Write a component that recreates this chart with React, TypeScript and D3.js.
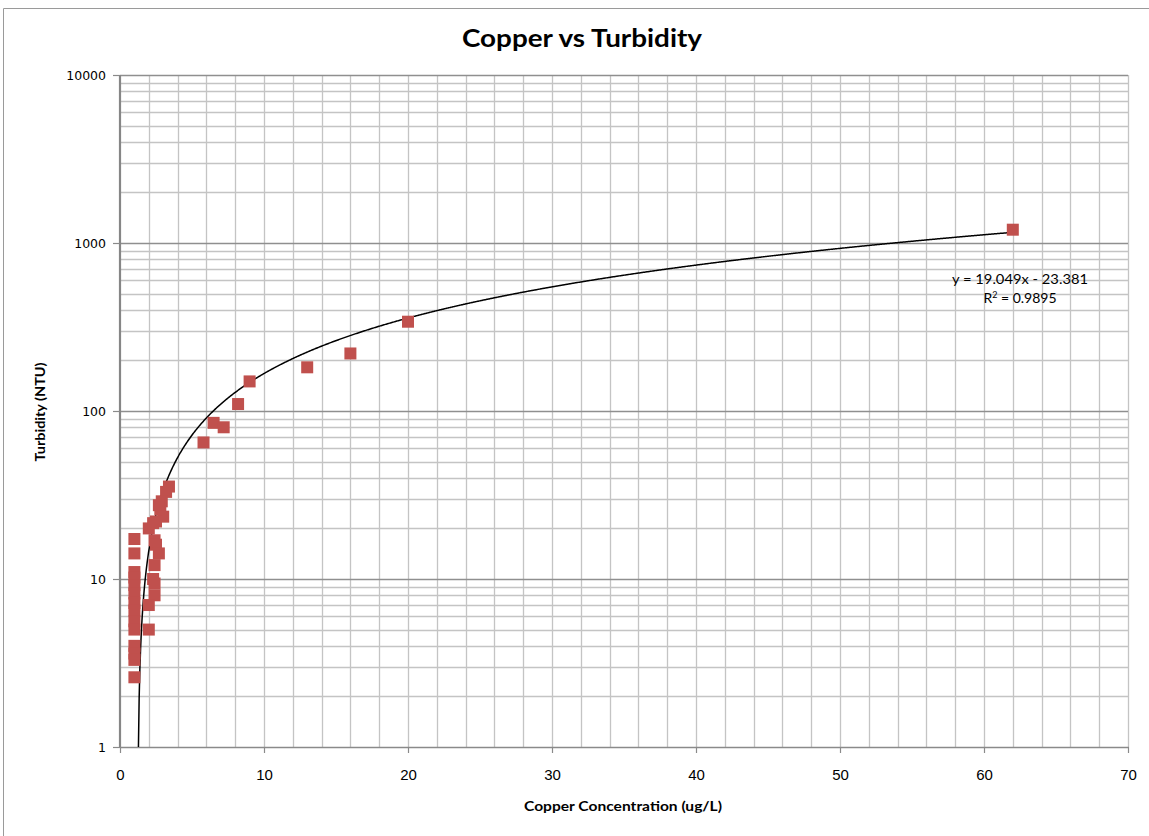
import React, { useEffect, useRef } from "react";
import * as d3 from "d3";

// copper (ug/L) vs turbidity (NTU) samples
const copper = [
  1, 1, 1, 1, 1, 1, 1, 1, 1, 1, 1, 1, 1, 1,
  3.4, 3.2, 2.9, 2.8, 2.7, 3.0, 2.0, 2.3, 2.5, 2.4, 2.5, 2.7, 2.4, 2.3, 2.4, 2.4, 2.0, 2.0,
  5.8, 6.5, 7.2, 8.2, 9.0, 13, 16, 20, 62,
];
const turbidity = [
  17.3, 14.2, 11, 10.2, 9.2, 8.2, 7.2, 6.5, 5.6, 5, 4, 3.6, 3.3, 2.6,
  35.5, 33, 29, 26, 27.5, 23.5, 20, 21.5, 22, 17, 16, 14.2, 12.1, 10, 9.4, 8, 7, 5,
  65, 85, 80, 110, 150, 182, 220, 340, 1200,
];

const xTicks = [0, 10, 20, 30, 40, 50, 60, 70];
const yTicks = [1, 10, 100, 1000, 10000];

// trendline shown on the chart
const slope = 19.049;
const intercept = -23.381;
const eqLabel = "y = 19.049x - 23.381";
const r2Label = "0.9895";

const App = () => {
  const svgRef = useRef<SVGSVGElement>(null);

  useEffect(() => {
    const svg = d3.select(svgRef.current);
    svg.selectAll("*").remove();

    const left = 120, right = 1128, top = 75, bottom = 747;
    const x = d3.scaleLinear().domain([0, 70]).range([left, right]);
    const y = d3.scaleLog().domain([1, 10000]).range([bottom, top]);

    // outer chart frame (only left/top visible in crop)
    svg.append("line").attr("x1", 3.5).attr("x2", 3.5).attr("y1", 8.5).attr("y2", 836)
      .attr("stroke", "#9a9a9a").attr("stroke-width", 1);
    svg.append("line").attr("x1", 3.5).attr("x2", 1149).attr("y1", 8.5).attr("y2", 8.5)
      .attr("stroke", "#9a9a9a").attr("stroke-width", 1);

    const grid = svg.append("g");
    // vertical gridlines every 2 units
    d3.range(2, 71, 2).forEach((v) => {
      grid.append("line")
        .attr("x1", Math.round(x(v)) + 0.5).attr("x2", Math.round(x(v)) + 0.5)
        .attr("y1", top).attr("y2", bottom)
        .attr("stroke", "#c4c4c4").attr("stroke-width", 1.3);
    });
    // horizontal log gridlines
    [1, 10, 100, 1000].forEach((dec) => {
      d3.range(2, 10).forEach((m) => {
        const yy = Math.round(y(dec * m)) + 0.5;
        grid.append("line").attr("x1", left).attr("x2", right).attr("y1", yy).attr("y2", yy)
          .attr("stroke", "#c4c4c4").attr("stroke-width", 1.3);
      });
    });
    yTicks.slice(1).forEach((v) => {
      const yy = Math.round(y(v)) + 0.5;
      grid.append("line").attr("x1", left).attr("x2", right).attr("y1", yy).attr("y2", yy)
        .attr("stroke", "#8f8f8f").attr("stroke-width", 1.3);
    });

    // axes
    svg.append("line").attr("x1", left).attr("x2", right + 1).attr("y1", bottom + 0.5).attr("y2", bottom + 0.5)
      .attr("stroke", "#8a8a8a").attr("stroke-width", 1.3);
    svg.append("line").attr("x1", left).attr("x2", left).attr("y1", top).attr("y2", bottom + 1)
      .attr("stroke", "#868686").attr("stroke-width", 2.2);

    xTicks.forEach((v) => {
      const xx = Math.round(x(v)) + 0.5;
      svg.append("line").attr("x1", xx).attr("x2", xx).attr("y1", bottom).attr("y2", bottom + 6)
        .attr("stroke", "#8a8a8a").attr("stroke-width", 1.2);
      svg.append("text").attr("x", xx).attr("y", 780)
        .attr("text-anchor", "middle")
        .attr("font-family", "'Liberation Sans Narrow', 'Liberation Sans', sans-serif")
        .attr("font-size", 15).attr("fill", "#000")
        .text(v);
    });

    yTicks.forEach((v) => {
      const yy = Math.round(y(v)) + 0.5;
      svg.append("line").attr("x1", left - 7).attr("x2", left).attr("y1", yy).attr("y2", yy)
        .attr("stroke", "#8a8a8a").attr("stroke-width", 1.2);
      svg.append("text").attr("x", 106).attr("y", yy + 4.5)
        .attr("text-anchor", "end")
        .attr("font-family", "'DejaVu Sans', sans-serif")
        .attr("font-size", 12.5).attr("fill", "#000")
        .text(v);
    });

    // trendline
    const xStart = (1 - intercept) / slope;
    const trendX = d3.range(xStart, 62.01, 0.05);
    const line = d3.line<number>()
      .x((d) => x(d))
      .y((d) => y(Math.max(1, slope * d + intercept)));
    svg.append("path").datum(trendX)
      .attr("fill", "none").attr("stroke", "#000").attr("stroke-width", 1.5)
      .attr("d", line);

    // markers
    const s = 12;
    svg.append("g").selectAll("rect").data(copper).join("rect")
      .attr("x", (d) => x(d) - s / 2)
      .attr("y", (d, i) => y(turbidity[i]) - s / 2)
      .attr("width", s).attr("height", s)
      .attr("fill", "#c0504d");

    // trendline label
    const eq = svg.append("text").attr("text-anchor", "middle")
      .attr("font-family", "Lato, sans-serif").attr("font-size", 14).attr("fill", "#000");
    eq.append("tspan").attr("x", 1020).attr("y", 284)
      .attr("textLength", 136).attr("lengthAdjust", "spacingAndGlyphs").text(eqLabel);
    const r = eq.append("tspan").attr("x", 1020).attr("y", 303);
    r.append("tspan").text("R");
    r.append("tspan").attr("dy", -5).attr("font-size", 9).text("2");
    r.append("tspan").attr("dy", 5).text(" = " + r2Label);

    // titles
    svg.append("text").attr("x", 582).attr("y", 47).attr("text-anchor", "middle")
      .attr("font-family", "Lato, sans-serif").attr("font-weight", "bold").attr("font-size", 24)
      .attr("textLength", 240).attr("lengthAdjust", "spacingAndGlyphs")
      .text("Copper vs Turbidity");
    svg.append("text").attr("x", 623).attr("y", 811).attr("text-anchor", "middle")
      .attr("font-family", "Lato, sans-serif").attr("font-weight", "bold").attr("font-size", 13)
      .attr("textLength", 198).attr("lengthAdjust", "spacingAndGlyphs")
      .text("Copper Concentration (ug/L)");
    svg.append("text").attr("transform", "translate(45,412) rotate(-90)").attr("text-anchor", "middle")
      .attr("font-family", "Lato, sans-serif").attr("font-weight", "bold").attr("font-size", 13)
      .attr("textLength", 99).attr("lengthAdjust", "spacingAndGlyphs")
      .text("Turbidity (NTU)");
  }, []);

  return (
    <svg
      ref={svgRef}
      width={1149}
      height={836}
      style={{ position: "absolute", left: 0, top: 0, background: "#fff" }}
    ></svg>
  );
};

export default App;
